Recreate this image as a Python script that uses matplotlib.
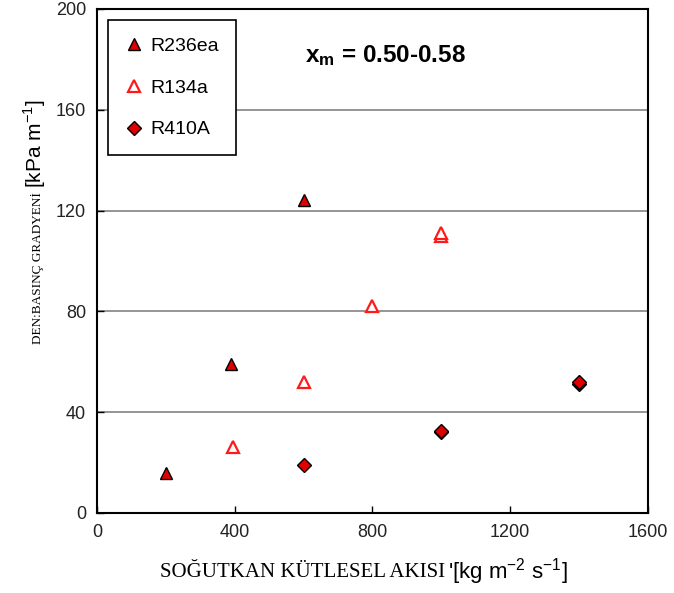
import matplotlib
matplotlib.use("Agg")
import matplotlib.pyplot as plt

plt.rcParams['font.family'] = ['Liberation Sans', 'DejaVu Sans']
plt.rcParams['mathtext.fontset'] = 'custom'
plt.rcParams['mathtext.rm'] = 'Liberation Sans'
plt.rcParams['mathtext.bf'] = 'Liberation Sans:bold'

# veri: kütlesel akı [kg m-2 s-1] ve basınç gradyeni [kPa m-1]
r236_x = [200, 390, 600]
r236_y = [16, 59, 124]

r134_x = [395, 600, 800, 1000, 1000]
r134_y = [26, 52, 82, 110, 111]

r410_x = [600, 1000, 1000, 1400, 1400]
r410_y = [19, 32, 32.5, 51, 52]

xticks = [0, 400, 800, 1200, 1600]
yticks = [0, 40, 80, 120, 160, 200]

fig = plt.figure(figsize=(6.74, 5.93), dpi=100)
ax = fig.add_axes([0.144, 0.135, 0.817, 0.85])

for y in yticks[1:-1]:
    ax.axhline(y, color='#8c8c8c', lw=1.3, zorder=1)

ax.plot(r236_x, r236_y, linestyle='none', marker='^', ms=8.5, mfc='#e00000',
        mec='black', mew=1.0, label='R236ea', zorder=3)
ax.plot(r134_x, r134_y, linestyle='none', marker='^', ms=8.5, mfc='white',
        mec='#ff1a1a', mew=1.6, label='R134a', zorder=3)
ax.plot(r410_x, r410_y, linestyle='none', marker='D', ms=7, mfc='#e00000',
        mec='black', mew=1.0, label='R410A', zorder=3)

ax.set_xlim(0, 1600)
ax.set_ylim(0, 200)
ax.set_xticks(xticks)
ax.set_yticks(yticks)
ax.tick_params(direction='in', length=5, width=1, labelsize=13, colors='black',
               labelcolor='#222222', pad=8)
for s in ax.spines.values():
    s.set_linewidth(1.5)

leg = ax.legend(loc='upper left', bbox_to_anchor=(0.02, 0.977), fontsize=14,
                frameon=True, fancybox=False, edgecolor='black', framealpha=1,
                labelspacing=1.25, handletextpad=0.35, handlelength=1.0,
                borderpad=0.85, borderaxespad=0)
leg.get_frame().set_linewidth(1.2)

ax.text(0.377, 0.907, r'$\mathbf{x_m}$ = 0.50-0.58', transform=ax.transAxes,
        fontsize=17.5, fontweight='bold', ha='left', va='center')

# eksen etiketleri (iki farklı yazı tipi)
fig.text(0.660, 0.034, 'SOĞUTKAN KÜTLESEL AKISI', family='Liberation Serif',
         fontsize=15, ha='right', va='center')
fig.text(0.664, 0.037, r"'[kg m$^{-2}$ s$^{-1}$]", fontsize=16,
         ha='left', va='center')

fig.text(0.055, 0.548, 'DEN:BASINÇ GRADYENİ', family='Liberation Serif',
         fontsize=9.5, rotation=90, ha='center', va='center')
fig.text(0.052, 0.757, r'[kPa m$^{-1}$]', fontsize=15, rotation=90,
         ha='center', va='center')

fig.savefig('out.png', dpi=100)
